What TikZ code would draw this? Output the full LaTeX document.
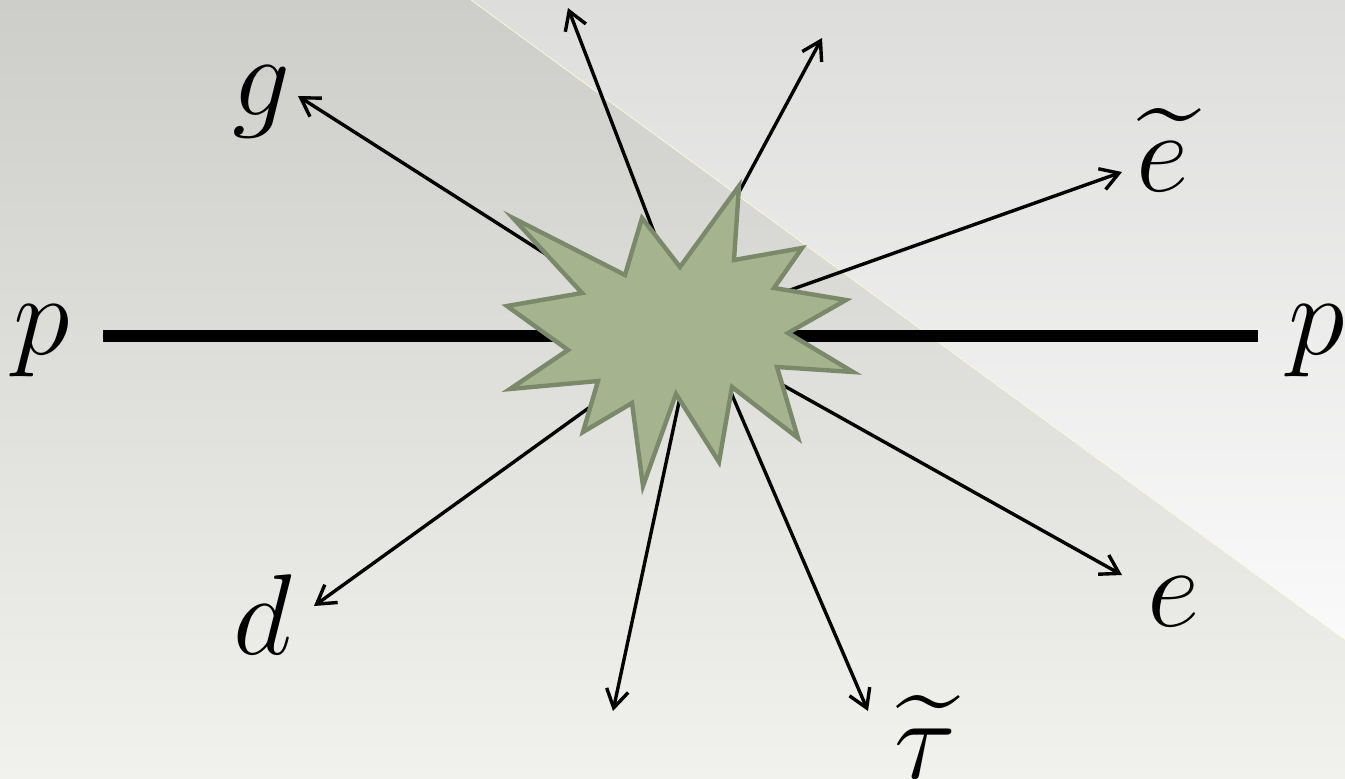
\documentclass[tikz,border=0pt]{standalone}
\usepackage{exscale}
\usetikzlibrary{arrows.meta}
\newcommand{\plabel}[1]{\scalebox{2.31}{$#1$}}

\begin{document}
\begin{tikzpicture}[
  x=0.5pt, y=-0.5pt,
  >={Straight Barb[length=9pt,width=11pt]},
  every node/.style={font=\Huge, inner sep=0pt},
  beam/.style={line width=6pt, black},
  ray/.style={->, line width=1.7pt, black, line cap=round},
  burst/.style={fill=burstfill, draw=burstline, line width=2.2pt, line join=miter}
]
  \definecolor{burstfill}{HTML}{A6B38F}
  \definecolor{burstline}{HTML}{7B896B}
  \definecolor{bgtop}{HTML}{CDCDC9}
  \definecolor{bgbottom}{HTML}{F1F1ED}
  \definecolor{lighttop}{HTML}{DDDDDC}
  \definecolor{lightbottom}{HTML}{FAFAFA}

  % background
  \useasboundingbox (0,0) rectangle (1345,778);
  \fill[top color=bgtop, bottom color=bgbottom] (0,0) rectangle (1345,778);
  \fill[top color=lighttop, bottom color=lightbottom] (471,0) -- (1345,0) -- (1345,640) -- cycle;
  \draw[line width=0.4pt, white!85!yellow] (471,0) -- (1345,640);

  % beams
  \node (pl) at (42,341) {\plabel{p}};
  \node (pr) at (1317,341) {\plabel{p}};
  \coordinate (bl) at (103,336);
  \coordinate (br) at (1258,336);
  \draw[beam] (bl) -- (br);

  % outgoing particles
  \node[anchor=base] (g) at (262,115) {\plabel{g}};
  \node[anchor=base] (et) at (1163,191) {\plabel{\widetilde{e}}};
  \node[anchor=base] (e) at (1174,626) {\plabel{e}};
  \node[anchor=base] (d) at (263,654) {\plabel{d}};
  \node[anchor=base] (tau) at (925,778) {\plabel{\widetilde{\tau}}};

  \coordinate (sg) at (660,327);   \coordinate (tg) at (298,96);
  \coordinate (sul) at (680,300);  \coordinate (tul) at (568,8);
  \coordinate (sur) at (681,300);  \coordinate (tur) at (822,38);
  \coordinate (set) at (720,315);  \coordinate (tet) at (1122,172);
  \coordinate (se) at (720,350);   \coordinate (te) at (1122,575);
  \coordinate (stau) at (717,360); \coordinate (ttau) at (868,711);
  \coordinate (sdn) at (688,360);  \coordinate (tdn) at (613,711);
  \coordinate (sd) at (640,371);   \coordinate (td) at (314,606);

  \draw[ray] (sg) -- (tg);
  \draw[ray] (sul) -- (tul);
  \draw[ray] (sur) -- (tur);
  \draw[ray] (set) -- (tet);
  \draw[ray] (se) -- (te);
  \draw[ray] (stau) -- (ttau);
  \draw[ray] (sdn) -- (tdn);
  \draw[ray] (sd) -- (td);

  % collision
  \draw[burst] (513,218) -- (625,275) -- (642,218) -- (680,267) -- (739,186)
    -- (734,260) -- (802,248) -- (774,288) -- (846,300) -- (788,333)
    -- (853,372) -- (777,367) -- (798,438) -- (732,387) -- (719,462)
    -- (676,394) -- (643,486) -- (632,403) -- (583,432) -- (598,381)
    -- (510,389) -- (568,350) -- (507,306) -- (582,293) -- cycle;
\end{tikzpicture}
\end{document}
